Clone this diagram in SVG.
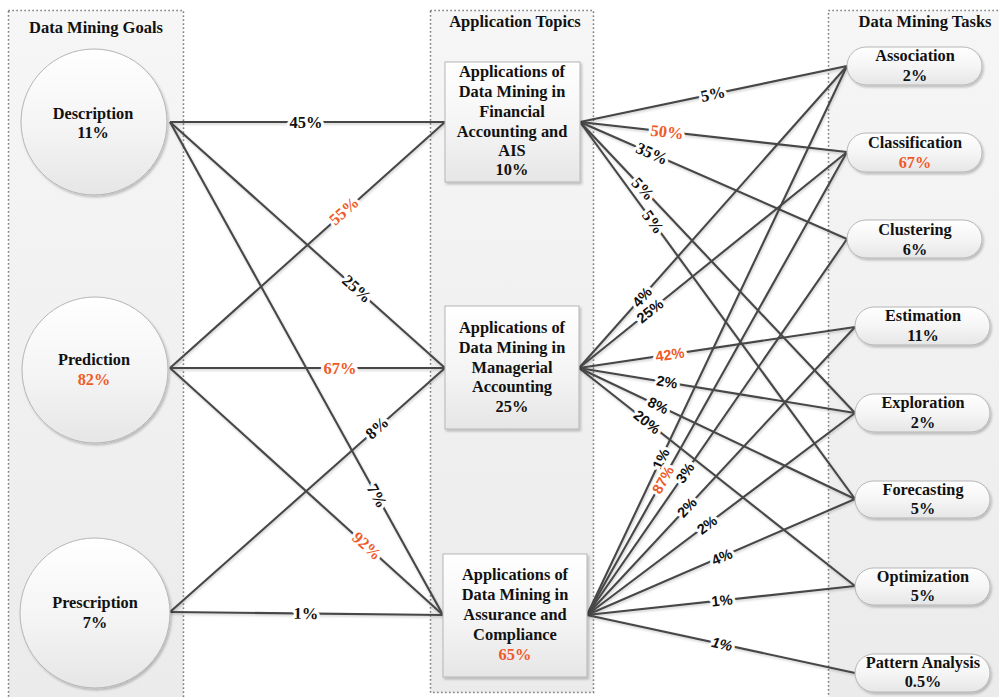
<svg xmlns="http://www.w3.org/2000/svg" width="999" height="697" viewBox="0 0 999 697">
  <defs>
    <linearGradient id="panelFill" x1="0" y1="0" x2="0" y2="1">
      <stop offset="0" stop-color="#f6f6f6"/>
      <stop offset="1" stop-color="#ebebeb"/>
    </linearGradient>
    <linearGradient id="nodeFill" x1="0" y1="0" x2="0" y2="1">
      <stop offset="0" stop-color="#ffffff"/>
      <stop offset="0.55" stop-color="#f4f4f4"/>
      <stop offset="1" stop-color="#e6e6e6"/>
    </linearGradient>
    <filter id="shadow" x="-10%" y="-10%" width="130%" height="130%">
      <feDropShadow dx="1.5" dy="2" stdDeviation="1.2" flood-color="#000" flood-opacity="0.22"/>
    </filter>
    <filter id="lineShadow" x="-5%" y="-5%" width="110%" height="110%">
      <feDropShadow dx="0.8" dy="1.5" stdDeviation="0.8" flood-color="#000" flood-opacity="0.2"/>
    </filter>
  </defs>
  <style>
    .panel { fill: url(#panelFill); stroke: #555; stroke-width: 1.5; stroke-dasharray: 1.2 2.8; }
    .title { font-weight: bold; font-size: 16.5px; fill: #111; text-anchor: middle; }
    .node { fill: url(#nodeFill); stroke: #b5b5b5; stroke-width: 1; filter: url(#shadow); }
    .ntext { font-weight: bold; font-size: 16.3px; fill: #111; text-anchor: middle; }
    .btext { font-weight: bold; font-size: 16.4px; fill: #111; text-anchor: middle; }
    .conn line { stroke: #474747; stroke-width: 2.1; fill: none; }
    .lbl { font-weight: bold; text-anchor: middle; dominant-baseline: central; stroke: #fff; stroke-width: 6; stroke-linejoin: round; paint-order: stroke; fill: #111; }
    .serif { font-size: 16.5px; }
    .sans { font-size: 14.5px; }
    .ntext.red, .btext.red, .lbl.red { fill: #f05a28; }
  </style>

  <rect width="999" height="697" fill="#ffffff"/>

  <!-- column panels -->
  <g id="panels" font-family="Liberation Serif, DejaVu Serif, serif">
    <rect class="panel" x="8.5" y="10.5" width="175" height="700"/>
    <rect class="panel" x="430.5" y="10.5" width="163" height="682"/>
    <rect class="panel" x="828.5" y="10.5" width="180" height="700"/>
    <text class="title" x="96" y="33">Data Mining Goals</text>
    <text class="title" x="515" y="27">Application Topics</text>
    <text class="title" x="925" y="27">Data Mining Tasks</text>
  </g>

  <!-- connectors -->
  <g id="connectors" class="conn" filter="url(#lineShadow)">
    <!-- goals to topics -->
    <line x1="170" y1="122" x2="445" y2="122"/>
    <line x1="170" y1="122" x2="445" y2="368"/>
    <line x1="170" y1="122" x2="443" y2="615"/>
    <line x1="170" y1="368" x2="445" y2="122"/>
    <line x1="170" y1="368" x2="445" y2="368"/>
    <line x1="170" y1="368" x2="443" y2="615"/>
    <line x1="170" y1="612" x2="445" y2="368"/>
    <line x1="170" y1="612" x2="443" y2="615"/>
    <!-- financial accounting to tasks -->
    <line x1="580" y1="122" x2="847" y2="66"/>
    <line x1="580" y1="122" x2="847" y2="152"/>
    <line x1="580" y1="122" x2="847" y2="239"/>
    <line x1="580" y1="122" x2="855" y2="413"/>
    <line x1="580" y1="122" x2="855" y2="499"/>
    <!-- managerial accounting to tasks -->
    <line x1="579" y1="368" x2="847" y2="66"/>
    <line x1="579" y1="368" x2="847" y2="152"/>
    <line x1="579" y1="368" x2="855" y2="327"/>
    <line x1="579" y1="368" x2="855" y2="413"/>
    <line x1="579" y1="368" x2="855" y2="499"/>
    <line x1="579" y1="368" x2="855" y2="586"/>
    <!-- assurance and compliance to tasks -->
    <line x1="587" y1="615" x2="847" y2="66"/>
    <line x1="587" y1="615" x2="847" y2="152"/>
    <line x1="587" y1="615" x2="847" y2="239"/>
    <line x1="587" y1="615" x2="855" y2="327"/>
    <line x1="587" y1="615" x2="855" y2="413"/>
    <line x1="587" y1="615" x2="855" y2="499"/>
    <line x1="587" y1="615" x2="855" y2="586"/>
    <line x1="587" y1="615" x2="855" y2="673"/>
  </g>

  <!-- connector labels -->
  <g id="connector-labels">
    <g font-family="Liberation Serif, DejaVu Serif, serif">
      <text class="lbl serif" x="306" y="122">45%</text>
      <text class="lbl serif red" transform="translate(344 211) rotate(-41.8)">55%</text>
      <text class="lbl serif" transform="translate(357 289) rotate(41.8)">25%</text>
      <text class="lbl serif red" x="340" y="368">67%</text>
      <text class="lbl serif" transform="translate(377 428) rotate(-41.6)">8%</text>
      <text class="lbl serif" transform="translate(377 496) rotate(61)">7%</text>
      <text class="lbl serif red" transform="translate(367 546) rotate(42.1)">92%</text>
      <text class="lbl serif" transform="translate(306 613.5) rotate(0.6)">1%</text>

      <text class="lbl serif" transform="translate(713 94) rotate(-11.8)">5%</text>
      <text class="lbl serif red" transform="translate(667 132) rotate(6.4)">50%</text>
      <text class="lbl serif" transform="translate(652 153.5) rotate(23.7)">35%</text>
      <text class="lbl serif" transform="translate(643 189) rotate(46.6)">5%</text>
      <text class="lbl serif" transform="translate(653 222) rotate(53.9)">5%</text>
    </g>
    <g font-family="Liberation Sans, Arial, sans-serif">
      <text class="lbl sans" transform="translate(642 297) rotate(-48.4)">4%</text>
      <text class="lbl sans" transform="translate(650 311) rotate(-38.9)">25%</text>
      <text class="lbl sans red" transform="translate(670 354.5) rotate(-8.4)">42%</text>
      <text class="lbl sans" transform="translate(667 382) rotate(9.3)">2%</text>
      <text class="lbl sans" transform="translate(658 405.5) rotate(25.4)">8%</text>
      <text class="lbl sans" transform="translate(647 422) rotate(38.3)">20%</text>

      <text class="lbl sans" transform="translate(661 459) rotate(-64.7)">1%</text>
      <text class="lbl sans red" transform="translate(663 480) rotate(-60.7)">87%</text>
      <text class="lbl sans" transform="translate(685 473) rotate(-55.3)">3%</text>
      <text class="lbl sans" transform="translate(687 507.5) rotate(-47.1)">2%</text>
      <text class="lbl sans" transform="translate(707 525) rotate(-37)">2%</text>
      <text class="lbl sans" transform="translate(722 557) rotate(-23.4)">4%</text>
      <text class="lbl sans" transform="translate(722 600.5) rotate(-6.2)">1%</text>
      <text class="lbl sans" font-style="italic" transform="translate(722 644) rotate(12.2)">1%</text>
    </g>
  </g>

  <g id="nodes" font-family="Liberation Serif, DejaVu Serif, serif">
    <!-- data mining goals -->
    <g id="goal-description">
      <circle class="node" cx="94" cy="122" r="73"/>
      <text class="ntext" x="93" y="119">Description</text>
      <text class="ntext" x="93" y="138">11%</text>
    </g>
    <g id="goal-prediction">
      <circle class="node" cx="95" cy="370" r="73"/>
      <text class="ntext" x="94" y="365">Prediction</text>
      <text class="ntext red" x="94" y="385">82%</text>
    </g>
    <g id="goal-prescription">
      <circle class="node" cx="95" cy="613" r="75"/>
      <text class="ntext" x="95" y="608">Prescription</text>
      <text class="ntext" x="95" y="628">7%</text>
    </g>

    <!-- application topics -->
    <g id="topic-financial">
      <rect class="node" x="445" y="62" width="135" height="120"/>
      <text class="btext" x="512" y="77">Applications of</text>
      <text class="btext" x="512" y="97">Data Mining in</text>
      <text class="btext" x="512" y="117">Financial</text>
      <text class="btext" x="512" y="137">Accounting and</text>
      <text class="btext" x="512" y="156">AIS</text>
      <text class="btext" x="512" y="175">10%</text>
    </g>
    <g id="topic-managerial">
      <rect class="node" x="445" y="306" width="134" height="123"/>
      <text class="btext" x="512" y="333">Applications of</text>
      <text class="btext" x="512" y="353">Data Mining in</text>
      <text class="btext" x="512" y="373">Managerial</text>
      <text class="btext" x="512" y="392">Accounting</text>
      <text class="btext" x="512" y="412">25%</text>
    </g>
    <g id="topic-assurance">
      <rect class="node" x="443" y="554" width="144" height="123"/>
      <text class="btext" x="515" y="580">Applications of</text>
      <text class="btext" x="515" y="600">Data Mining in</text>
      <text class="btext" x="515" y="620">Assurance and</text>
      <text class="btext" x="515" y="640">Compliance</text>
      <text class="btext red" x="515" y="660">65%</text>
    </g>

    <!-- data mining tasks -->
    <g id="task-association">
      <rect class="node" x="847" y="47" width="135" height="38" rx="19"/>
      <text class="ntext" x="915" y="61">Association</text>
      <text class="ntext" x="915" y="81">2%</text>
    </g>
    <g id="task-classification">
      <rect class="node" x="847" y="133" width="135" height="39" rx="19"/>
      <text class="ntext" x="915" y="148">Classification</text>
      <text class="ntext red" x="915" y="168">67%</text>
    </g>
    <g id="task-clustering">
      <rect class="node" x="847" y="220" width="135" height="38" rx="19"/>
      <text class="ntext" x="915" y="235">Clustering</text>
      <text class="ntext" x="915" y="255">6%</text>
    </g>
    <g id="task-estimation">
      <rect class="node" x="855" y="307" width="135" height="38" rx="19"/>
      <text class="ntext" x="923" y="321">Estimation</text>
      <text class="ntext" x="923" y="341">11%</text>
    </g>
    <g id="task-exploration">
      <rect class="node" x="855" y="394" width="135" height="38" rx="19"/>
      <text class="ntext" x="923" y="408">Exploration</text>
      <text class="ntext" x="923" y="428">2%</text>
    </g>
    <g id="task-forecasting">
      <rect class="node" x="855" y="481" width="135" height="37" rx="18.5"/>
      <text class="ntext" x="923" y="495">Forecasting</text>
      <text class="ntext" x="923" y="514">5%</text>
    </g>
    <g id="task-optimization">
      <rect class="node" x="855" y="568" width="135" height="37" rx="18.5"/>
      <text class="ntext" x="923" y="582">Optimization</text>
      <text class="ntext" x="923" y="601">5%</text>
    </g>
    <g id="task-pattern-analysis">
      <rect class="node" x="855" y="654" width="135" height="38" rx="19"/>
      <text class="ntext" x="923" y="668">Pattern Analysis</text>
      <text class="ntext" x="923" y="687">0.5%</text>
    </g>
  </g>
</svg>
